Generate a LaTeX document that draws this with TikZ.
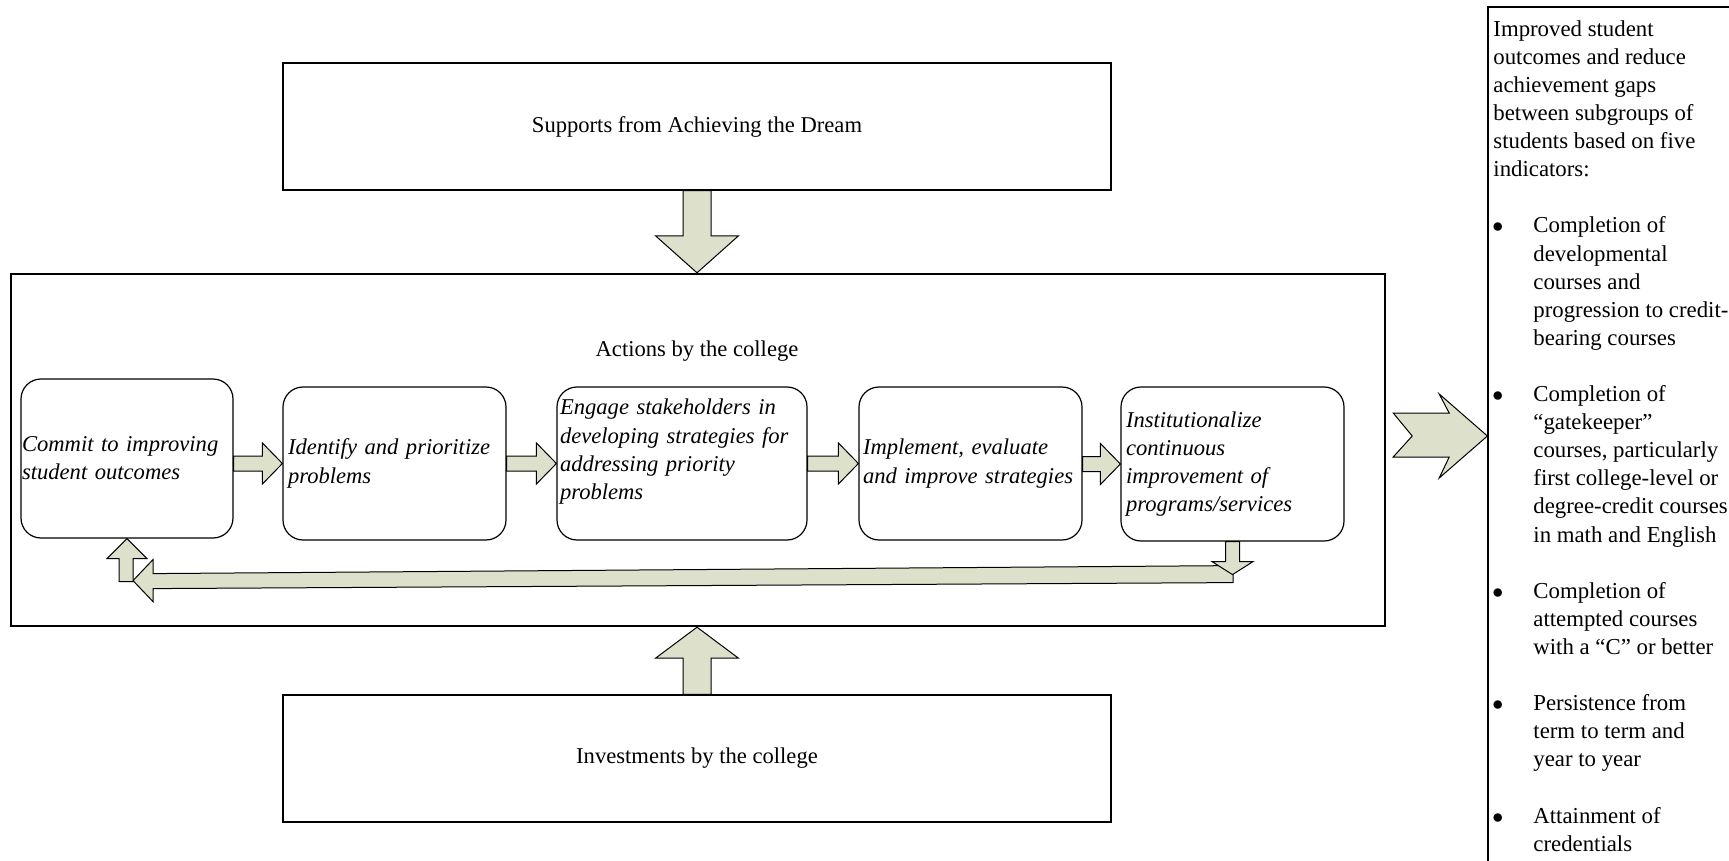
\documentclass[tikz,border=0pt]{standalone}
\usepackage{fontspec}
\setmainfont{Liberation Serif}
\usetikzlibrary{calc,fit}
\definecolor{arrowfill}{RGB}{221,224,203}
\newcommand{\bxfont}{\fontsize{11.3pt}{14.1pt}\selectfont}
\newcommand{\rsfont}{\fontsize{11.4pt}{14.05pt}\selectfont}
\newcommand{\rbul}{\makebox[20pt][l]{\hspace{-0.5pt}$\bullet$}}
\newcommand{\rind}{\hspace*{20pt}}
\newcommand{\blkarr}[2]{\draw[barrow] let \p1=(#1.east), \p2=(#2.west) in
  (\x1,\y2+3.75pt) -- (\x2-10pt,\y2+3.75pt) -- (\x2-10pt,\y2+10.25pt) -- (\x2,\y2)
  -- (\x2-10pt,\y2-10.25pt) -- (\x2-10pt,\y2-3.75pt) -- (\x1,\y2-3.75pt) -- cycle;}
\begin{document}
\begin{tikzpicture}[x=0.5pt,y=-0.5pt,line join=miter,
  plainbox/.style={draw, line width=0.6pt, inner sep=0pt, font=\bxfont, minimum width=414pt, minimum height=63.5pt},
  rbox/.style={draw, rounded corners=10pt, line width=0.6pt, inner sep=0pt, font=\bxfont\itshape, align=left, minimum height=76.5pt},
  barrow/.style={draw=black, fill=arrowfill, line width=0.5pt}]
\useasboundingbox (0,0) rectangle (1729,861);
\clip (0,0) rectangle (1729,861);
\fill[white] (0,0) rectangle (1729,861);

% outer boxes
\node[plainbox] (top) at (697,126.5) {Supports from Achieving the Dream};
\node[plainbox] (bot) at (697,758.5) {Investments by the college};
\node[draw, line width=1.2pt, inner sep=0pt, minimum width=687pt, minimum height=176pt] (main) at (698,450) {};
\node[font=\bxfont] (act) at (697,351) {Actions by the college};

% step boxes
\node[rbox, text width=105pt, minimum width=106pt, minimum height=79.5pt] (b1) at (127,458.5) {Commit to improving\\student outcomes};
\node[rbox, text width=106.5pt, minimum width=111.5pt] (b2) at (394.5,463.5) {Identify and prioritize\\problems};
\node[rbox, text width=122pt, minimum width=125pt] (b3) at (682,463.5) {Engage stakeholders in\\developing strategies for\\addressing priority\\problems\\\mbox{}};
\node[rbox, text width=107.5pt, minimum width=111.5pt] (b4) at (970.5,463.5) {Implement, evaluate\\and improve strategies};
\node[rbox, text width=106.5pt, minimum width=111.5pt, minimum height=77pt] (b5) at (1232.5,464) {Institutionalize\\continuous\\improvement of\\programs/services};

% result box
\node[draw, line width=0.6pt, inner sep=0pt, fit={(1488,7) (1800,900)}] (res) {};
\node[anchor=north west, inner sep=0pt, font=\rsfont, align=left] (restext) at (1493,20) {%
Improved student\\
outcomes and reduce\\
achievement gaps\\
between subgroups of\\
students based on five\\
indicators:\\[14.05pt]
\rbul Completion of\\
\rind developmental\\
\rind courses and\\
\rind progression to credit-\\
\rind bearing courses\\[14.05pt]
\rbul Completion of\\
\rind “gatekeeper”\\
\rind courses, particularly\\
\rind first college-level or\\
\rind degree-credit courses\\
\rind in math and English\\[14.05pt]
\rbul Completion of\\
\rind attempted courses\\
\rind with a “C” or better\\[14.05pt]
\rbul Persistence from\\
\rind term to term and\\
\rind year to year\\[14.05pt]
\rbul Attainment of\\
\rind credentials};

% small arrows between steps
\blkarr{b1}{b2}
\blkarr{b2}{b3}
\blkarr{b3}{b4}
\blkarr{b4}{b5}

% big vertical arrows
\draw[barrow] let \p1=(top.south), \p2=(main.north) in
  (\x1-7pt,\y1) -- (\x1+7pt,\y1) -- (\x1+7pt,\y2+18.5pt) -- (\x1+20.75pt,\y2+18.5pt)
  -- (\x1,\y2) -- (\x1-20.75pt,\y2+18.5pt) -- (\x1-7pt,\y2+18.5pt) -- cycle;
\draw[barrow] let \p1=(bot.north), \p2=(main.south) in
  (\x1-7pt,\y1) -- (\x1+7pt,\y1) -- (\x1+7pt,\y2-15.5pt) -- (\x1+20.75pt,\y2-15.5pt)
  -- (\x1,\y2) -- (\x1-20.75pt,\y2-15.5pt) -- (\x1-7pt,\y2-15.5pt) -- cycle;

% chevron to result
\coordinate (ylev) at (0,436);
\coordinate (cs) at (main.east |- ylev);
\coordinate (ct) at (res.west |- ylev);
\draw[barrow] ($(cs)+(7,-23)$) -- ($(cs)+(63,-23)$) -- ($(cs)+(53,-42)$) -- (ct)
  -- ($(cs)+(53,42)$) -- ($(cs)+(63,21)$) -- ($(cs)+(7,21)$) -- ($(cs)+(26,0)$) -- cycle;

% feedback loop
\coordinate (B5) at (b5.south);
\coordinate (B1) at (b1.south);
\draw[barrow] ($(B5)+(0.5,24)$) -- ($(B5)+(0.5,41)$) -- ($(B1)+(26,50)$) -- ($(B1)+(26,63)$)
  -- ($(B1)+(6,42)$) -- ($(B1)+(26,21)$) -- ($(B1)+(26,35)$) -- cycle;
\draw[barrow] ($(B5)+(-7,0)$) -- ($(B5)+(7,0)$) -- ($(B5)+(7,20)$) -- ($(B5)+(20.5,20)$)
  -- ($(B5)+(0,33)$) -- ($(B5)+(-20.5,20)$) -- ($(B5)+(-7,20)$) -- cycle;
\draw[barrow] (B1) -- ($(B1)+(20,20)$) -- ($(B1)+(6,20)$) -- ($(B1)+(6,43)$)
  -- ($(B1)+(-8,43)$) -- ($(B1)+(-8,20)$) -- ($(B1)+(-20,20)$) -- cycle;
\end{tikzpicture}
\end{document}
